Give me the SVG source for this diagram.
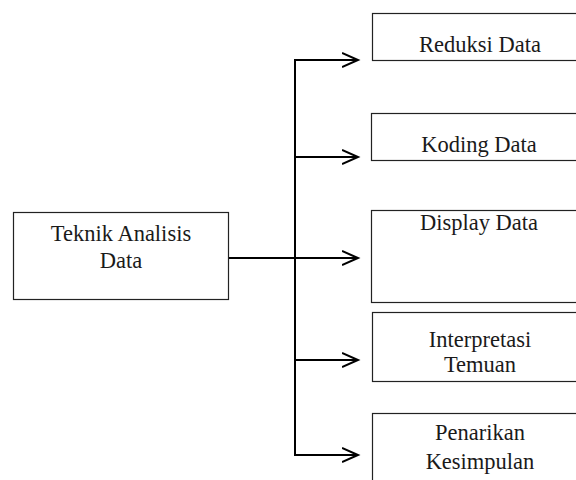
<svg xmlns="http://www.w3.org/2000/svg" width="576" height="480" viewBox="0 0 576 480">
  <style>
    .box { fill: #ffffff; stroke: #222222; stroke-width: 1.2; }
    .lbl { font-family: "Liberation Serif", "Times New Roman", serif; font-size: 22.5px; fill: #1a1a1a; text-anchor: middle; }
    .wire { fill: none; stroke: #000000; stroke-width: 2; }
  </style>
  <defs>
    <marker id="chev" markerUnits="userSpaceOnUse" markerWidth="20" markerHeight="20" refX="16" refY="9" orient="auto">
      <path d="M0,2 L16,9 L0,16" fill="none" stroke="#000000" stroke-width="2"/>
    </marker>
  </defs>
  <rect width="576" height="480" fill="#ffffff"/>

  <g id="connectors">
    <line class="wire" x1="229" y1="258" x2="295" y2="258"/>
    <line class="wire" x1="295" y1="59" x2="295" y2="456"/>
    <line class="wire" x1="294" y1="60" x2="358" y2="60" marker-end="url(#chev)"/>
    <line class="wire" x1="294" y1="157" x2="358" y2="157" marker-end="url(#chev)"/>
    <line class="wire" x1="294" y1="258" x2="358" y2="258" marker-end="url(#chev)"/>
    <line class="wire" x1="294" y1="360" x2="358" y2="360" marker-end="url(#chev)"/>
    <line class="wire" x1="294" y1="455" x2="358" y2="455" marker-end="url(#chev)"/>
  </g>

  <g id="teknik-analisis">
    <rect class="box" x="13.5" y="212.5" width="215" height="87"/>
    <text class="lbl" x="121" y="241">Teknik Analisis</text>
    <text class="lbl" x="121" y="268">Data</text>
  </g>

  <g id="reduksi-data">
    <rect class="box" x="372.5" y="13.5" width="210" height="47"/>
    <text class="lbl" x="480" y="52">Reduksi Data</text>
  </g>

  <g id="koding-data">
    <rect class="box" x="371.5" y="113.5" width="210" height="47"/>
    <text class="lbl" x="479" y="152">Koding Data</text>
  </g>

  <g id="display-data">
    <rect class="box" x="371.5" y="210.5" width="210" height="92"/>
    <text class="lbl" x="479" y="230">Display Data</text>
  </g>

  <g id="interpretasi-temuan">
    <rect class="box" x="372.5" y="312.5" width="210" height="69"/>
    <text class="lbl" x="480" y="347">Interpretasi</text>
    <text class="lbl" x="480" y="372">Temuan</text>
  </g>

  <g id="penarikan-kesimpulan">
    <rect class="box" x="372.5" y="413.5" width="210" height="80"/>
    <text class="lbl" x="480" y="440">Penarikan</text>
    <text class="lbl" x="480" y="469">Kesimpulan</text>
  </g>
</svg>
